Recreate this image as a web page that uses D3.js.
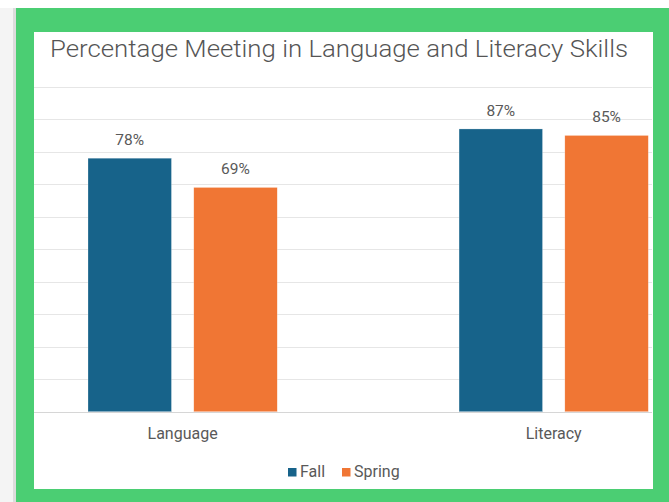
<!DOCTYPE html>
<html><head><meta charset="utf-8">
<script src="https://cdn.jsdelivr.net/npm/d3@7"></script>
<style>html,body{margin:0;padding:0;background:#fff;}svg{display:block;}</style>
</head><body>
<svg id="chart" width="669" height="502"></svg>
<script>
const categories = ["Language", "Literacy"];
const seriesNames = ["Fall", "Spring"];
const fallValues = [78, 87];
const springValues = [69, 85];
const yTicks = [0,10,20,30,40,50,60,70,80,90,100];
const title = "Percentage Meeting in Language and Literacy Skills";

const colors = {Fall: "#17638A", Spring: "#F07634"};
const font = "Roboto, 'Liberation Sans', sans-serif";
const textColor = "#595959";

const svg = d3.select("#chart");
svg.append("rect").attr("x",0).attr("y",0).attr("width",669).attr("height",502).attr("fill","#fff");
svg.append("rect").attr("x",0).attr("y",8).attr("width",16).attr("height",494).attr("fill","#f4f4f4");
svg.append("rect").attr("x",13).attr("y",8).attr("width",3).attr("height",494).attr("fill","#dcdcdc");
svg.append("rect").attr("x",16).attr("y",8).attr("width",653).attr("height",494).attr("fill","#4BCE73");
svg.append("rect").attr("x",34).attr("y",32).attr("width",619).attr("height",457).attr("fill","#fff");

const y = d3.scaleLinear().domain([0,100]).range([411.7, 86.7]);
const x0 = d3.scaleBand().domain(categories).range([88, 648.3]).paddingInner(0.49).paddingOuter(0);
const x1 = d3.scaleBand().domain(seriesNames).range([0, x0.bandwidth()]).paddingInner(0.211).paddingOuter(0);

svg.append("g").selectAll("line").data(yTicks).join("line")
  .attr("x1",34).attr("x2",652)
  .attr("y1",d=>Math.round(y(d))+0.5).attr("y2",d=>Math.round(y(d))+0.5)
  .attr("stroke",d=>d===0?"#d6d6d6":"#e6e6e6").attr("stroke-width",1);

svg.append("text").attr("x",339).attr("y",57)
  .attr("text-anchor","middle").attr("font-family",font).attr("font-size",24.5).attr("font-weight",300)
  .attr("fill","#555").attr("textLength",578).attr("lengthAdjust","spacingAndGlyphs")
  .text(title);

const data = categories.map((c,i)=>({cat:c, values:[{s:"Fall",v:fallValues[i]},{s:"Spring",v:springValues[i]}]}));

const groups = svg.append("g").selectAll("g").data(data).join("g")
  .attr("transform",d=>`translate(${x0(d.cat)},0)`);

groups.selectAll("rect").data(d=>d.values).join("rect")
  .attr("x",d=>x1(d.s)).attr("width",x1.bandwidth())
  .attr("y",d=>y(d.v)).attr("height",d=>y(0)-y(d.v))
  .attr("fill",d=>colors[d.s]).attr("stroke","rgba(255,255,255,0.5)").attr("stroke-width",0.5);

groups.selectAll("text").data(d=>d.values).join("text")
  .attr("x",d=>x1(d.s)+x1.bandwidth()/2).attr("y",d=>y(d.v)-13)
  .attr("text-anchor","middle").attr("font-family",font).attr("font-size",15.5)
  .attr("fill",textColor).text(d=>d.v+"%");

svg.append("g").selectAll("text").data(categories).join("text")
  .attr("x",d=>x0(d)+x0.bandwidth()/2).attr("y",438.5)
  .attr("text-anchor","middle").attr("font-family",font).attr("font-size",16)
  .attr("fill",textColor).text(d=>d);

const legend = svg.append("g");
const legendItems = [{s:"Fall", x:288}, {s:"Spring", x:342}];
legendItems.forEach(it=>{
  legend.append("rect").attr("x",it.x).attr("y",468).attr("width",8.5).attr("height",8.5).attr("fill",colors[it.s]);
  legend.append("text").attr("x",it.x+12).attr("y",476.5).attr("font-family",font).attr("font-size",16)
    .attr("fill",textColor).text(it.s);
});
</script>
</body></html>
